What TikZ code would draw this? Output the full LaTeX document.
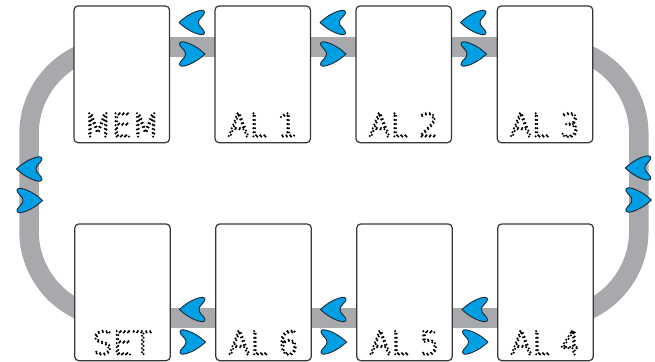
\documentclass[tikz,border=0pt]{standalone}
\usepackage{fontspec}
\usetikzlibrary{backgrounds}
\IfFontExistsTF{DejaVu Sans ExtraLight}{\newfontfamily\dotfont{DejaVu Sans ExtraLight}}{\newfontfamily\dotfont{DejaVu Sans}}
\definecolor{bandgray}{RGB}{167,169,172}
\definecolor{arrowblue}{RGB}{0,159,227}
\definecolor{arrowline}{RGB}{30,40,55}
\definecolor{boxline}{RGB}{55,55,55}
\newcommand\dotty{\special{pdf:literal 1 Tr 1 J 1 j [0 4.1] 0 d 2.3 w}}
\tikzset{
  panel/.style={draw=boxline, line width=1.2pt, fill=white, rounded corners=4pt,
    minimum width=95.5pt, minimum height=136.7pt, inner sep=0pt},
  band/.style={draw=bandgray, line width=19.5pt},
  lbl/.style={anchor=base, inner sep=0pt, font=\dotfont\fontsize{32}{32}\selectfont},
  arrowstyle/.style={fill=arrowblue, draw=arrowline, line width=0.9pt, line join=round},
  larrow/.pic={
    \path[arrowstyle] (-13,0) .. controls (-7,-5.8) and (1,-10.6) .. (8,-12)
      .. controls (11,-12.8) and (13.6,-11.5) .. (12,-8.5)
      .. controls (9.8,-5) and (6.5,-3.5) .. (6.5,0)
      .. controls (6.5,3.5) and (9.8,5) .. (12,8.5)
      .. controls (13.6,11.5) and (11,12.8) .. (8,12)
      .. controls (1,10.6) and (-7,5.8) .. (-13,0) -- cycle;
  },
}
\begin{document}
\begin{tikzpicture}[x=1pt,y=-1pt]
\useasboundingbox (0,0) rectangle (655,361);
% panels
\path (121.75,74.35) node[panel] (mem) {}
      (262.75,74.35) node[panel] (al1) {}
      (403.75,74.35) node[panel] (al2) {}
      (545,74.35) node[panel] (al3) {}
      (122.5,292.3) node[panel] (set) {}
      (263.5,292.3) node[panel] (al6) {}
      (404.5,292.3) node[panel] (al5) {}
      (545.5,292.3) node[panel] (al4) {};
\coordinate (topband) at (0,47);
\coordinate (botband) at (0,318);
\coordinate (leftx) at (29,0);
\coordinate (rightx) at (638.8,0);
% band behind the panels
\begin{scope}[on background layer]
  \draw[band] (mem |- topband) -- (al1 |- topband);
  \draw[band] (al1 |- topband) -- (al2 |- topband);
  \draw[band] (al2 |- topband) -- (al3 |- topband);
  \draw[band] (set |- botband) -- (al6 |- botband);
  \draw[band] (al6 |- botband) -- (al5 |- botband);
  \draw[band] (al5 |- botband) -- (al4 |- botband);
  \draw[band, rounded corners=87pt] (mem |- topband) -- (leftx |- topband)
      -- (leftx |- botband) -- (set |- botband);
  \draw[band, rounded corners=87pt] (al3 |- topband) -- (rightx |- topband)
      -- (rightx |- botband) -- (al4 |- botband);
\end{scope}
% arrows, top row
\pic at (192,22.5) {larrow};
\pic[xscale=-1] at (192,54) {larrow};
\pic at (333,22.5) {larrow};
\pic[xscale=-1] at (333,54) {larrow};
\pic at (473.5,22.5) {larrow};
\pic[xscale=-1] at (473.5,54) {larrow};
% arrows, bottom row
\pic at (192.5,309.5) {larrow};
\pic[xscale=-1] at (192.5,342) {larrow};
\pic at (333.5,309.5) {larrow};
\pic[xscale=-1] at (333.5,342) {larrow};
\pic at (475,309.5) {larrow};
\pic[xscale=-1] at (475,342) {larrow};
% arrows, sides
\pic at (29.5,169) {larrow};
\pic[xscale=-1] at (29.5,200.5) {larrow};
\pic at (638.3,168) {larrow};
\pic[xscale=-1] at (638.3,200) {larrow};
% labels
\node[lbl] (memlbl) at ([yshift=6.7pt]mem.south) {\dotty MEM};
\node[lbl] (al1lbl) at ([yshift=6.7pt]al1.south) {\dotty AL 1};
\node[lbl] (al2lbl) at ([yshift=6.7pt]al2.south) {\dotty AL 2};
\node[lbl] (al3lbl) at ([yshift=6.7pt]al3.south) {\dotty AL 3};
\node[lbl] (setlbl) at ([yshift=6.8pt]set.south) {\dotty SET};
\node[lbl] (al6lbl) at ([yshift=6.8pt]al6.south) {\dotty AL 6};
\node[lbl] (al5lbl) at ([yshift=6.8pt]al5.south) {\dotty AL 5};
\node[lbl] (al4lbl) at ([yshift=6.8pt]al4.south) {\dotty AL 4};
\end{tikzpicture}
\end{document}
